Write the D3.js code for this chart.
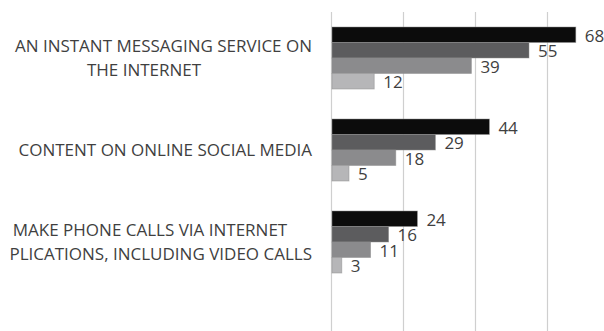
<!DOCTYPE html>
<html>
<head>
<meta charset="utf-8">
<script src="https://cdn.jsdelivr.net/npm/d3@7"></script>
<style>
  html, body { margin: 0; padding: 0; background: #fff; }
  svg { display: block; }
</style>
</head>
<body>
<div id="chart"></div>
<script>
// ---------------- DATA ----------------
const categories = [
  ["AN INSTANT MESSAGING SERVICE ON", "THE INTERNET"],
  ["CONTENT ON ONLINE SOCIAL MEDIA"],
  ["MAKE PHONE CALLS VIA INTERNET", "PLICATIONS, INCLUDING VIDEO CALLS"]
];
const series1 = [68, 44, 24];
const series2 = [55, 29, 16];
const series3 = [39, 18, 11];
const series4 = [12, 5, 3];
const xTicks = [0, 20, 40, 60, 80];

const allSeries = [series1, series2, series3, series4];
const colors = ["#0c0c0c", "#5c5c5e", "#8b8b8d", "#b6b6b8"];

// ---------------- LAYOUT ----------------
const width = 604;
const height = 331;
const x0 = 331;
const plotTop = 12;
const plotBottom = 288;
const labelRight = 312;
// wrapped labels are centred on a block whose left part is cut off,
// so the widest line is pinned right and the others centred
const labelMid = [144, 162, 150];
const labelWidest = [0, 0, 1];
const textColor = "#3f3f3f";
const font = "'Open Sans', sans-serif";

const svg = d3
  .select("#chart")
  .append("svg")
  .attr("width", width)
  .attr("height", height);

const x = d3.scaleLinear().domain([0, 80]).range([x0, x0 + 288]);
const y = d3
  .scaleBand()
  .domain(d3.range(categories.length))
  .range([plotTop, plotBottom])
  .paddingInner(0.326)
  .paddingOuter(0.163);
const ySub = d3
  .scaleBand()
  .domain(d3.range(allSeries.length))
  .range([0, y.bandwidth()]);

// gridlines
svg
  .append("g")
  .selectAll("line")
  .data(xTicks)
  .enter()
  .append("line")
  .attr("x1", (d) => Math.round(x(d)) + 0.5)
  .attr("x2", (d) => Math.round(x(d)) + 0.5)
  .attr("y1", plotTop)
  .attr("y2", height)
  .attr("stroke", "#cfcfcf")
  .attr("stroke-width", 1.2);

// bars
const groups = svg
  .append("g")
  .selectAll("g")
  .data(categories)
  .enter()
  .append("g")
  .attr("transform", (d, i) => `translate(0,${y(i)})`);

const barData = (d, i) =>
  allSeries.map((s, k) => ({ value: s[i], k: k }));

groups
  .selectAll("rect")
  .data(barData)
  .enter()
  .append("rect")
  .attr("x", x(0) + 1)
  .attr("y", (d) => ySub(d.k))
  .attr("width", (d) => x(d.value) - x(0) - 1)
  .attr("height", ySub.bandwidth())
  .attr("fill", (d) => colors[d.k])
  .attr("stroke", "#8e8e8e")
  .attr("stroke-opacity", 0.6)
  .attr("stroke-width", 0.8);

// value labels
groups
  .selectAll("text.val")
  .data(barData)
  .enter()
  .append("text")
  .attr("class", "val")
  .attr("x", (d) => x(d.value) + 9)
  .attr("y", (d) => ySub(d.k) + ySub.bandwidth() / 2 + 7)
  .attr("font-family", font)
  .attr("font-size", 17)
  .attr("fill", textColor)
  .text((d) => d.value);

// category labels
const lineH = 24;
groups.each(function (lines, i) {
  const g = d3.select(this);
  const cy = y.bandwidth() / 2;
  lines.forEach((ln, j) => {
    const pinned = j === labelWidest[i];
    g.append("text")
      .attr("font-family", font)
      .attr("font-size", 17)
      .attr("fill", textColor)
      .attr("text-anchor", pinned ? "end" : "middle")
      .attr("x", pinned ? labelRight : labelMid[i])
      .attr("y", cy + (j - (lines.length - 1) / 2) * lineH + 6)
      .text(ln);
  });
});
</script>
</body>
</html>
